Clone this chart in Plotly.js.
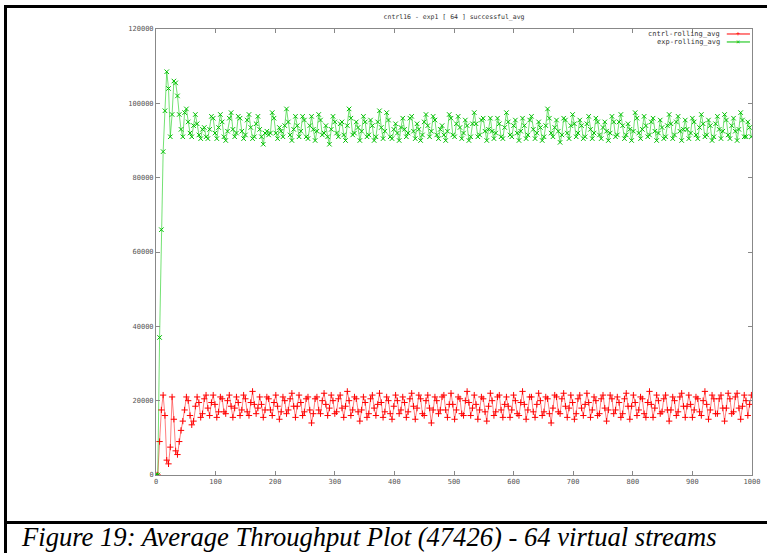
<!DOCTYPE html>
<html>
<head>
<meta charset="utf-8">
<script src="https://cdn.plot.ly/plotly-3.0.1.min.js"></script>
<style>
  html, body { margin: 0; padding: 0; background: #fff; }
  #wrap { position: relative; width: 767px; height: 553px; overflow: hidden; }
  #chart { position: absolute; left: 0; top: 0; width: 767px; height: 553px; }
  .bar { position: absolute; background: #000; z-index: 5; }
  #caption { position: absolute; left: 22px; top: 521px; z-index: 5;
    font-family: "Liberation Serif", "DejaVu Serif", serif; font-style: italic;
    font-size: 26.6px; color: #000; white-space: nowrap; line-height: 32px; }
</style>
</head>
<body>
<div id="wrap">
  <div id="chart"></div>
  <div class="bar" style="left:4px; top:5px; width:763px; height:3px;"></div>
  <div class="bar" style="left:4px; top:5px; width:3px; height:548px;"></div>
  <div class="bar" style="left:4px; top:521px; width:763px; height:3px;"></div>
  <div id="caption">Figure 19: Average Throughput Plot (47426) - 64 virtual streams</div>
</div>
<script>
// Sampling step on the x axis (every 3 units, from 0)
const xStart = 0;
const xStep = 3;

const seriesNames = ["cntrl-rolling_avg", "exp-rolling_avg"];

const expRollingAvg = [
  0, 0, 37000, 66000, 87000, 98000, 108500, 104000, 91000, 97000,
  106000, 105500, 102000, 97000, 93000, 91000, 97500, 98500, 95000, 92000,
  91000, 94000, 97000, 94500, 91500, 90500, 93000, 93500, 91000, 90500,
  93000, 96500, 96000, 92000, 90500, 93500, 97000, 95000, 91000, 90000,
  92500, 96000, 97500, 93000, 91000, 92000, 96500, 96000, 92500, 90500,
  91500, 95500, 97000, 93500, 90500, 91000, 94500, 96500, 93000, 91000,
  89000, 92000, 92500, 91500, 92000, 97500, 96000, 92000, 90500, 93500,
  92500, 91000, 94000, 98500, 95000, 91500, 90000, 93000, 96500, 94000,
  91000, 92500, 96500, 95500, 91000, 90500, 94000, 96500, 93000, 90000,
  92500, 97000, 95500, 91500, 92000, 94000, 91000, 89000, 93000, 96500,
  95000, 92000, 91000, 94500, 95000, 91500, 90000, 94000, 98500, 96000,
  91500, 92000, 95000, 93500, 90000, 92500, 96500, 95000, 91000, 91500,
  95500, 94000, 90000, 91000, 95000, 98000, 93500, 90500, 92500, 97500,
  95500, 91000, 90500, 93000, 94500, 92000, 90000, 93500, 96000, 93000,
  91000, 92000, 96000, 96500, 92500, 90500, 94500, 93000, 90000, 91500,
  95000, 97000, 94000, 91000, 92500, 96500, 95500, 91500, 90500, 93000,
  94000, 91500, 90000, 92500, 97000, 96000, 91500, 91000, 94500, 96500,
  93500, 90500, 92000, 95500, 94000, 90000, 91000, 94500, 97500, 94500,
  91000, 91500, 95500, 96000, 92500, 90000, 93000, 96000, 92500, 90500,
  92000, 96000, 94500, 91000, 90500, 93500, 97500, 95000, 91500, 91000,
  94000, 95500, 92000, 90000, 92500, 96000, 94000, 90500, 91500, 95500,
  96500, 93000, 90500, 92000, 95000, 93500, 90000, 91000, 94000, 98500,
  96000, 92000, 91000, 93500, 95500, 92500, 89500, 91500, 96000, 95500,
  92000, 90500, 94000, 97000, 94500, 91000, 92000, 95500, 94000, 90500,
  91000, 94500, 96500, 93000, 90500, 92000, 96000, 95000, 91500, 90500,
  93500, 95000, 92500, 90000, 92000, 96500, 95000, 91000, 91500, 95000,
  97000, 94000, 90500, 91500, 94500, 93000, 90000, 92500, 97500, 96000,
  92000, 90500, 93000, 96500, 94000, 91000, 91500, 95000, 96000, 92500,
  90000, 92000, 95500, 93500, 90500, 91000, 94000, 97000, 94500, 90500,
  91500, 95000, 96500, 92500, 90000, 93000, 95500, 93000, 90500, 92000,
  96000, 95000, 91500, 90500, 93500, 97000, 94500, 91000, 91500, 95500,
  94000, 90000, 91000, 94500, 96500, 93000, 90500, 92500, 97000, 95500,
  91500, 90500, 94000, 96000, 92500, 90000, 93000, 97500, 95500, 91000,
  91000, 95000, 93500, 91000
];

const cntrlRollingAvg = [
  0, 0, 9000, 17500, 21500, 16000, 4000, 3000, 7500, 21000,
  15000, 6500, 5500, 9000, 12000, 14500, 17500, 21000, 20000, 16000,
  13500, 14500, 18500, 21000, 19500, 15500, 16500, 20500, 21500, 18000,
  16000, 19500, 21500, 19000, 15500, 17000, 21000, 20500, 17000, 16500,
  20000, 21500, 18500, 15500, 18000, 21000, 19500, 16000, 17500, 21500,
  20500, 17000, 16000, 19500, 22500, 19000, 16500, 18000, 21000, 19000,
  15500, 17500, 21000, 20500, 17500, 16000, 19500, 21500, 18500, 15000,
  17000, 21000, 20000, 16500, 17500, 20500, 22000, 18500, 15500, 18500,
  21500, 19500, 16000, 17000, 20500, 21000, 17500, 14000, 16500, 20500,
  21000, 17500, 16500, 20000, 22000, 19000, 16000, 18000, 21500, 20000,
  16500, 17000, 20500, 21500, 18000, 15500, 18500, 22500, 20000, 16000,
  17500, 21000, 20500, 17000, 14500, 17500, 21000, 19500, 15500, 16500,
  20500, 21500, 18000, 16000, 19000, 22000, 19500, 15500, 17000, 21000,
  20000, 16500, 15000, 18500, 21500, 20000, 16500, 17500, 21000, 19500,
  15500, 17000, 20500, 22000, 18500, 15000, 18000, 21500, 20500, 16500,
  16000, 20000, 21500, 18000, 14000, 17500, 21000, 20000, 16500, 17500,
  21000, 21500, 17500, 15500, 19000, 22000, 19000, 15000, 17500, 21000,
  20500, 16500, 16000, 20000, 22500, 19500, 16000, 18000, 21500, 19000,
  15000, 17500, 21000, 20500, 17000, 14500, 18500, 22000, 20000, 16000,
  17000, 21000, 21500, 17500, 15500, 19000, 21000, 18500, 15500, 17500,
  21500, 20000, 16500, 16000, 19500, 22500, 19000, 15000, 17500, 21000,
  21000, 17000, 15500, 19000, 22000, 20000, 16000, 17000, 21000, 20500,
  16500, 14000, 18000, 21500, 21000, 17000, 16500, 20500, 22000, 18500,
  15500, 18000, 21500, 19500, 15000, 16500, 20500, 21500, 18000, 16000,
  19000, 22000, 19500, 15500, 17500, 21000, 20000, 16000, 16500, 20500,
  21500, 18000, 14500, 17500, 21500, 20500, 16500, 17500, 21000, 19500,
  15500, 16500, 20500, 22000, 18500, 15000, 18500, 21500, 19500, 16000,
  17500, 21000, 20500, 16500, 15500, 19500, 22500, 19000, 15500, 18000,
  21500, 20000, 16500, 17000, 20500, 21500, 17500, 14500, 17500, 21000,
  20000, 16000, 17000, 21000, 22000, 18500, 15500, 18500, 21500, 19000,
  15500, 17500, 21000, 20500, 17000, 16000, 20000, 22500, 19000, 15000,
  17500, 21500, 20500, 16500, 16500, 20500, 21500, 18000, 14500, 18000,
  22000, 20500, 16500, 17000, 21000, 22000, 18000, 15000, 18500, 21500,
  20000, 16000, 19000, 21500
];

const xTickVals = [0, 100, 200, 300, 400, 500, 600, 700, 800, 900, 1000];
const yTickVals = [0, 20000, 40000, 60000, 80000, 100000, 120000];

const monoFont = "DejaVu Sans Mono, Liberation Mono, monospace";
const tickFont = { family: monoFont, size: 7, color: "#555" };
const legendFont = { family: monoFont, size: 7, color: "#333" };

const traces = [
  {
    name: seriesNames[0],
    type: "scatter", mode: "lines+markers",
    x0: xStart, dx: xStep, y: cntrlRollingAvg,
    line: { color: "rgba(255,0,0,0.5)", width: 1 },
    marker: { symbol: "cross-thin", size: 4.5, line: { color: "#ff0000", width: 1 }, color: "#ff0000" },
    showlegend: false
  },
  {
    name: seriesNames[1],
    type: "scatter", mode: "lines+markers",
    x0: xStart, dx: xStep, y: expRollingAvg,
    line: { color: "rgba(0,200,0,0.55)", width: 1 },
    marker: { symbol: "x-thin", size: 4.5, line: { color: "#00c000", width: 1 }, color: "#00c000" },
    showlegend: false
  }
];

const layout = {
  width: 767, height: 553,
  margin: { l: 156, r: 15, t: 29, b: 78, pad: 0 },
  paper_bgcolor: "#fff", plot_bgcolor: "#fff",
  title: {
    text: "cntrl16 - exp1 [ 64 ] successful_avg",
    font: { family: monoFont, size: 6.5, color: "#333" },
    x: 0.592, xanchor: "center", y: 0.969, yanchor: "middle"
  },
  xaxis: {
    range: [0, 1000], tickvals: xTickVals, ticktext: xTickVals.map(String),
    ticks: "inside", ticklen: 4, tickcolor: "#888",
    showline: true, linecolor: "#888", linewidth: 1, mirror: "ticks",
    showgrid: false, zeroline: false, tickfont: tickFont
  },
  yaxis: {
    range: [0, 120000], tickvals: yTickVals, ticktext: yTickVals.map(String),
    ticks: "inside", ticklen: 4, tickcolor: "#888",
    showline: true, linecolor: "#888", linewidth: 1, mirror: "ticks",
    showgrid: false, zeroline: false, tickfont: tickFont
  },
  showlegend: false,
  annotations: [
    { xref: "paper", yref: "paper", x: 0.948, y: 0.9888, xanchor: "right", yanchor: "middle",
      text: seriesNames[0], showarrow: false, font: legendFont, borderpad: 0 },
    { xref: "paper", yref: "paper", x: 0.948, y: 0.9709, xanchor: "right", yanchor: "middle",
      text: seriesNames[1], showarrow: false, font: legendFont, borderpad: 0 },
    { xref: "paper", yref: "paper", x: 0.9765, y: 0.9888, xanchor: "center", yanchor: "middle",
      text: "+", showarrow: false, font: { family: monoFont, size: 7, color: "#ff0000" }, borderpad: 0 },
    { xref: "paper", yref: "paper", x: 0.9765, y: 0.9709, xanchor: "center", yanchor: "middle",
      text: "×", showarrow: false, font: { family: monoFont, size: 7, color: "#00c000" }, borderpad: 0 }
  ],
  shapes: [
    { type: "line", xref: "paper", yref: "paper", x0: 0.9577, x1: 0.9966, y0: 0.9888, y1: 0.9888,
      line: { color: "#ff0000", width: 1 } },
    { type: "line", xref: "paper", yref: "paper", x0: 0.9577, x1: 0.9966, y0: 0.9709, y1: 0.9709,
      line: { color: "#00c000", width: 1 } }
  ]
};

Plotly.newPlot("chart", traces, layout, { displayModeBar: false, staticPlot: true });
</script>
</body>
</html>
